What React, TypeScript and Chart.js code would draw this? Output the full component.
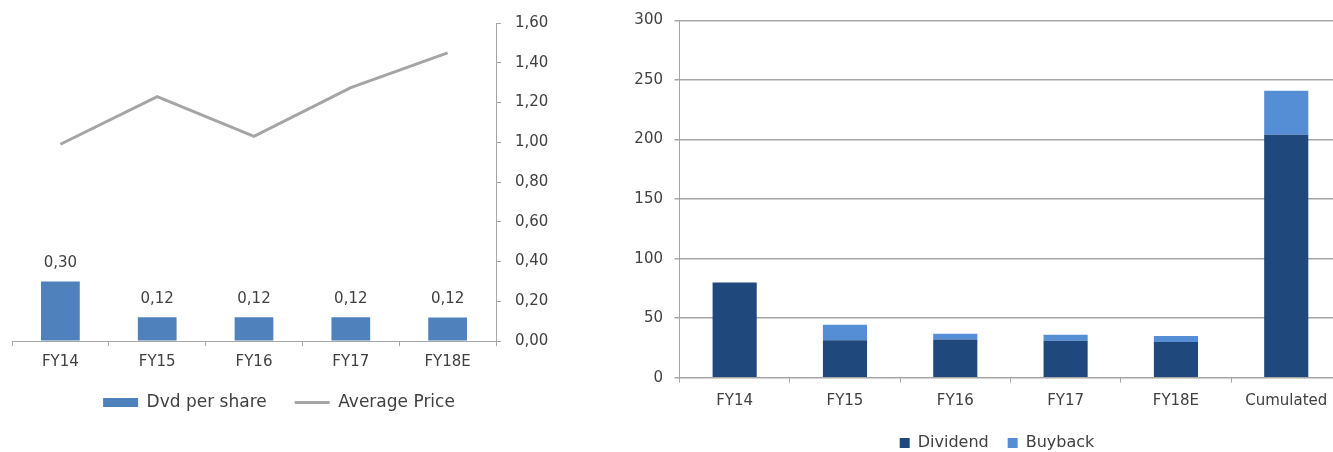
import React, { useEffect, useRef } from 'react';
import { Chart, registerables } from 'chart.js';

Chart.register(...registerables);

// ---- Left chart data ----
const leftCategories = ['FY14', 'FY15', 'FY16', 'FY17', 'FY18E'];
const dvdPerShare = [0.3, 0.12, 0.12, 0.12, 0.118];
const averagePrice = [0.99, 1.23, 1.03, 1.275, 1.45];
const leftAxisMax = 1.6;
const leftAxisStep = 0.2;

// ---- Right chart data ----
const rightCategories = ['FY14', 'FY15', 'FY16', 'FY17', 'FY18E', 'Cumulated'];
const dividend = [80, 31.5, 32, 31, 30, 204];
const buyback = [0, 13, 5, 5, 5, 37];
const rightAxisMax = 300;
const rightAxisStep = 50;

const TEXT = '#404040';
const AXIS = '#a6a6a6';
const FAMILY = '"DejaVu Sans", sans-serif';

const fmtComma = (v: number) => Number(v).toFixed(2).replace('.', ',');

const barLabels = {
  id: 'barLabels',
  afterDatasetsDraw(chart: any) {
    const meta = chart.getDatasetMeta(0);
    const ctx = chart.ctx;
    ctx.save();
    ctx.font = '15px ' + FAMILY;
    ctx.fillStyle = TEXT;
    ctx.textAlign = 'center';
    ctx.textBaseline = 'middle';
    meta.data.forEach((el: any, i: number) => {
      const v = chart.data.datasets[0].data[i] as number;
      ctx.fillText(fmtComma(v), el.x, el.y - 18);
    });
    ctx.restore();
  },
};

// invisible spacer axis used only to reserve room beside the plot
const spacerAxis = (position: string, width: number) => ({
  type: 'linear',
  position,
  display: true,
  grid: { display: false, drawTicks: false },
  border: { display: false },
  ticks: { display: false },
  afterFit: (s: any) => { s.width = width; },
});

export default function App() {
  const leftRef = useRef<HTMLCanvasElement>(null);
  const rightRef = useRef<HTMLCanvasElement>(null);

  useEffect(() => {
    const left = new Chart(leftRef.current as HTMLCanvasElement, {
      type: 'bar',
      data: {
        labels: leftCategories,
        datasets: [
          {
            type: 'bar',
            label: 'Dvd per share',
            data: dvdPerShare,
            backgroundColor: '#4F81BD',
            borderWidth: 0,
            barPercentage: 0.4,
            categoryPercentage: 1,
            yAxisID: 'y',
          } as any,
          {
            type: 'line',
            label: 'Average Price',
            data: averagePrice,
            borderColor: '#A5A5A5',
            backgroundColor: '#A5A5A5',
            borderWidth: 3,
            pointRadius: 0,
            tension: 0,
            yAxisID: 'y',
          } as any,
        ],
      },
      plugins: [barLabels],
      options: {
        responsive: false,
        animation: false,
        devicePixelRatio: 1,
        layout: { padding: { left: 6, right: 48, top: 20, bottom: 31 } },
        plugins: {
          tooltip: { enabled: false },
          legend: {
            position: 'bottom',
            labels: {
              usePointStyle: true,
              pointStyleWidth: 35,
              boxWidth: 35,
              boxHeight: 9,
              padding: 28,
              color: TEXT,
              font: { family: FAMILY, size: 17 },
              generateLabels: (chart: any) => {
                const items = Chart.defaults.plugins.legend.labels.generateLabels(chart);
                return items.map((it: any) => {
                  if (it.datasetIndex === 0) {
                    return { ...it, pointStyle: 'rect', lineWidth: 0 };
                  }
                  return { ...it, pointStyle: 'line', lineWidth: 3, strokeStyle: '#A5A5A5' };
                });
              },
            },
          },
        },
        scales: {
          x: {
            grid: { offset: true, drawOnChartArea: false, drawTicks: true, tickLength: 5, color: AXIS },
            border: { color: AXIS },
            ticks: { color: TEXT, font: { family: FAMILY, size: 15 }, padding: 6.7 },
            afterFit: (s: any) => { s.height = 25; },
          },
          y: {
            position: 'right',
            min: 0,
            max: leftAxisMax,
            ticks: {
              stepSize: leftAxisStep,
              color: TEXT,
              font: { family: FAMILY, size: 15 },
              padding: 14,
              callback: (v: any) => fmtComma(Number(v)),
            },
            grid: { drawOnChartArea: false, drawTicks: true, tickLength: 5, color: AXIS },
            border: { color: AXIS },
            afterFit: (s: any) => { s.width = 56; },
          },
          spacer: spacerAxis('left', 6),
        },
      } as any,
    });

    const right = new Chart(rightRef.current as HTMLCanvasElement, {
      type: 'bar',
      data: {
        labels: rightCategories,
        datasets: [
          {
            label: 'Dividend',
            data: dividend,
            backgroundColor: '#1F497D',
            borderWidth: 0,
            barPercentage: 0.4,
            categoryPercentage: 1,
          },
          {
            label: 'Buyback',
            data: buyback,
            backgroundColor: '#558ED5',
            borderWidth: 0,
            barPercentage: 0.4,
            categoryPercentage: 1,
          },
        ],
      },
      options: {
        responsive: false,
        animation: false,
        devicePixelRatio: 1,
        layout: { padding: { left: 0, right: 0, top: 16, bottom: 9 } },
        plugins: {
          tooltip: { enabled: false },
          legend: {
            position: 'bottom',
            labels: {
              boxWidth: 10,
              boxHeight: 10,
              padding: 19,
              color: TEXT,
              font: { family: FAMILY, size: 16 },
            },
          },
        },
        scales: {
          x: {
            stacked: true,
            grid: { offset: true, drawOnChartArea: false, drawTicks: true, tickLength: 5, color: AXIS },
            border: { color: AXIS },
            ticks: { color: TEXT, font: { family: FAMILY, size: 15 }, padding: 9 },
            afterFit: (s: any) => { s.height = 38.3; },
          },
          y: {
            stacked: true,
            min: 0,
            max: rightAxisMax,
            ticks: {
              stepSize: rightAxisStep,
              color: TEXT,
              font: { family: FAMILY, size: 15 },
              padding: 11.5,
            },
            grid: { color: AXIS, lineWidth: 1.5, drawTicks: true, tickLength: 5 },
            border: { color: AXIS },
            afterFit: (s: any) => { s.width = 79.5; },
          },
          spacer: spacerAxis('right', 52.6),
        },
      } as any,
    });

    return () => {
      left.destroy();
      right.destroy();
    };
  }, []);

  return (
    <div
      style={{
        position: 'fixed',
        left: 0,
        top: 0,
        width: 1333,
        height: 452,
        overflow: 'hidden',
        background: '#ffffff',
      }}
    >
      <canvas
        ref={leftRef}
        width={600}
        height={452}
        style={{ position: 'absolute', left: 0, top: 0, width: 600, height: 452 }}
      />
      <canvas
        ref={rightRef}
        width={794}
        height={470}
        style={{ position: 'absolute', left: 600, top: 0, width: 794, height: 470 }}
      />
    </div>
  );
}
